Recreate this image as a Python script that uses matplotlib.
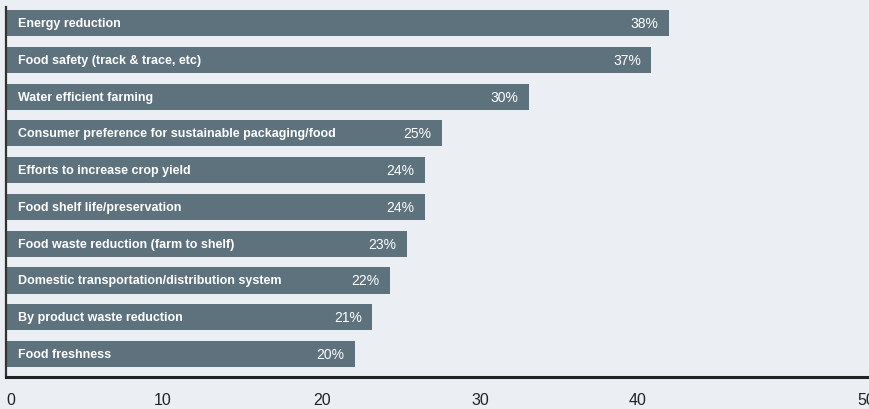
import matplotlib.pyplot as plt
import numpy as np

# data
categories = [
    "Energy reduction",
    "Food safety (track & trace, etc)",
    "Water efficient farming",
    "Consumer preference for sustainable packaging/food",
    "Efforts to increase crop yield",
    "Food shelf life/preservation",
    "Food waste reduction (farm to shelf)",
    "Domestic transportation/distribution system",
    "By product waste reduction",
    "Food freshness",
]
values = [38, 37, 30, 25, 24, 24, 23, 22, 21, 20]
tick_labels = ["0", "10", "20", "30", "40", "50"]

bg = "#ebeef2"
bar_color = "#5e727e"

plt.rcParams["font.family"] = ["Liberation Sans", "DejaVu Sans"]

fig = plt.figure(figsize=(8.7, 4.1), dpi=100, facecolor=bg)
ax = fig.add_axes([6 / 870, 1 - 378 / 410, 864 / 870, 370 / 410], facecolor=bg)

y = np.arange(len(categories))
ax.barh(y, values, height=0.71, color=bar_color, zorder=2)

for yi, name, v in zip(y, categories, values):
    ax.text(0.7, yi, name, color="white", fontsize=9, fontweight="bold",
            va="center", ha="left", zorder=3)
    ax.text(v - 0.6, yi, f"{v}%", color="white", fontsize=10,
            va="center", ha="right", zorder=3)

ax.set_xlim(0, 49.54)
ax.set_ylim(9.625, -0.435)

# tick labels sit where the original places them
tick_pos = [0.25, 9.0, 18.1, 27.2, 36.2, 49.3]
ax.set_xticks(tick_pos)
ax.set_xticklabels(tick_labels, fontsize=11.5, color="#222222")
ax.tick_params(axis="x", length=0, pad=11)
ax.set_yticks([])

for s in ["top", "right"]:
    ax.spines[s].set_visible(False)
ax.spines["left"].set_color("#333333")
ax.spines["left"].set_linewidth(1.6)
ax.spines["bottom"].set_color("#222222")
ax.spines["bottom"].set_linewidth(2.2)

fig.savefig("out.png", dpi=100, facecolor=bg)
